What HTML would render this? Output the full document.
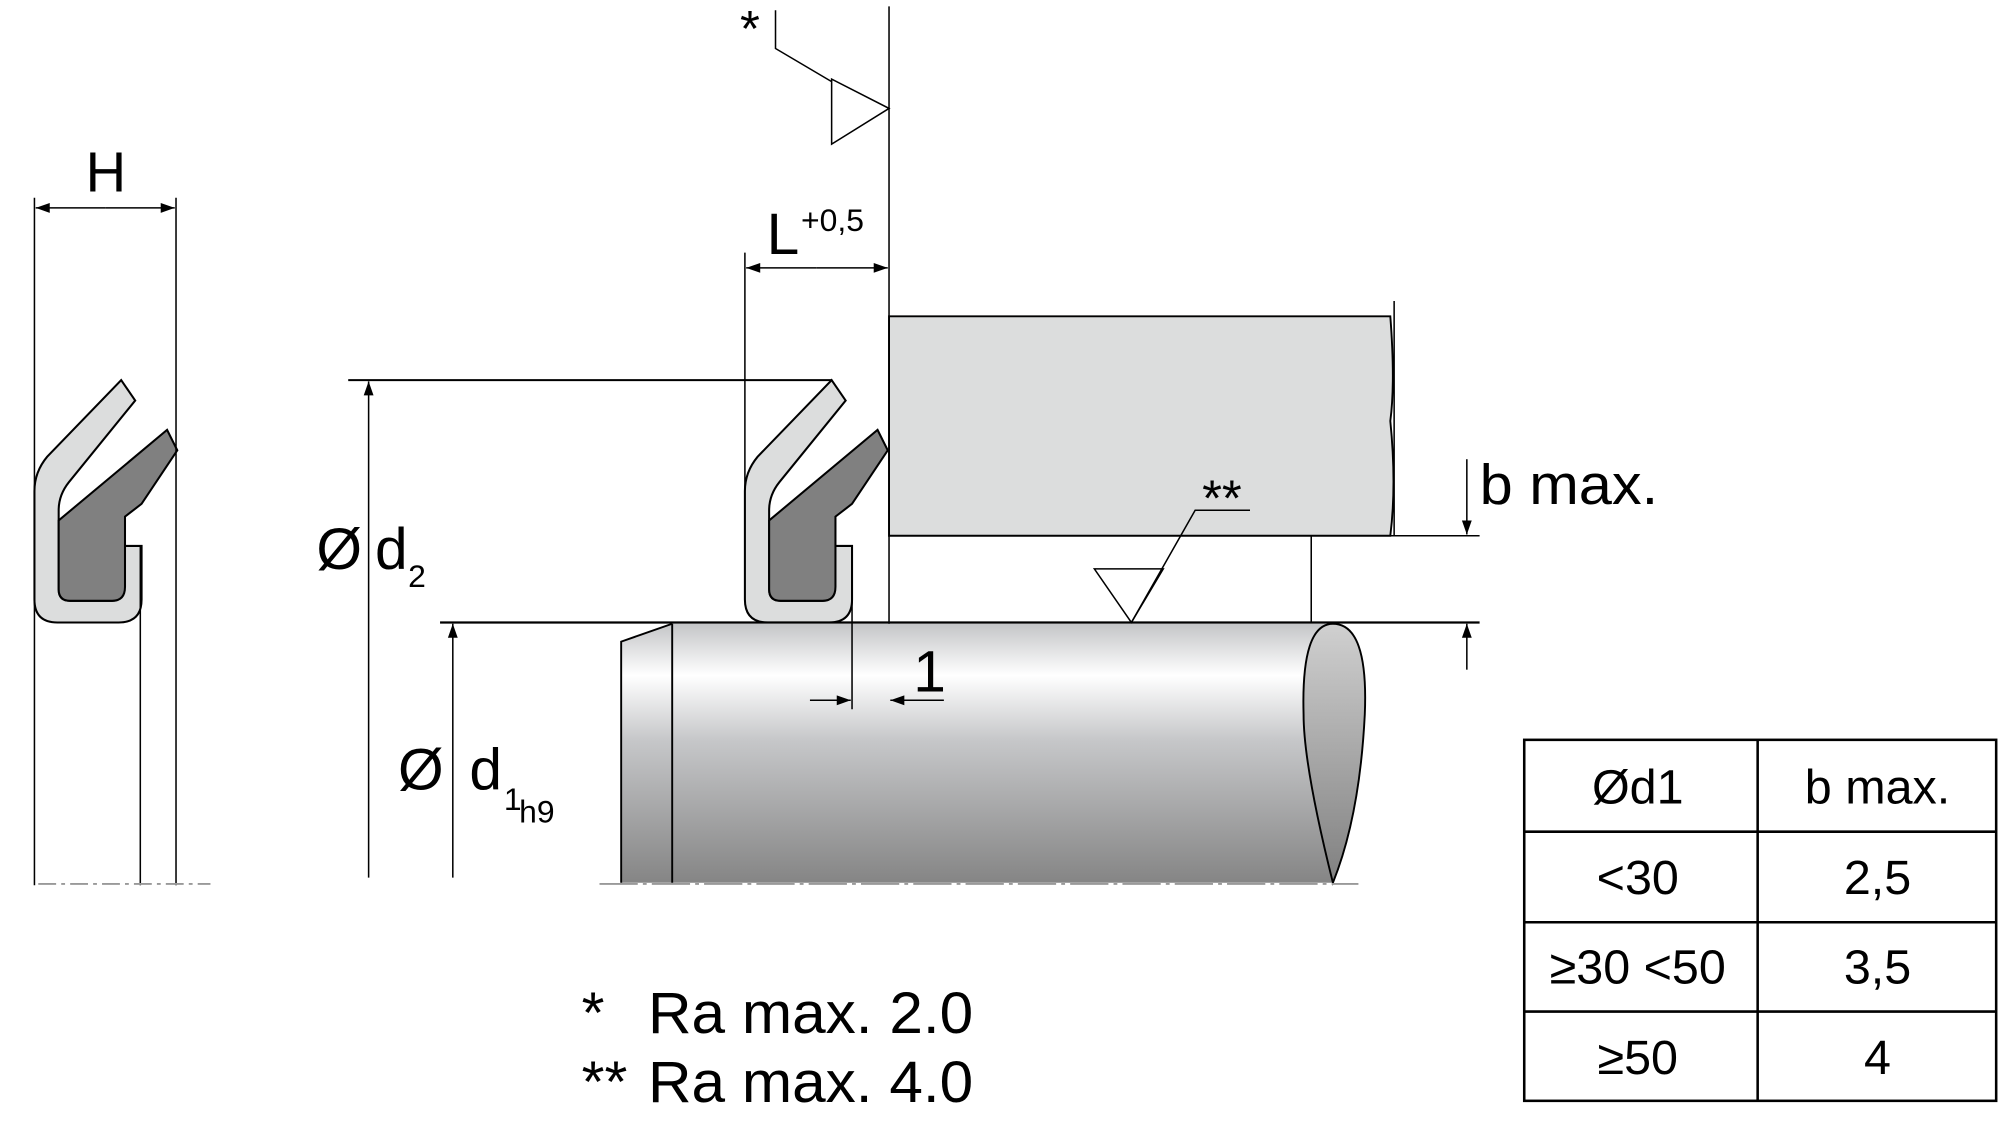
<!DOCTYPE html>
<html><head><meta charset="utf-8"><style>html,body{margin:0;padding:0;background:#fff}svg{display:block}text{font-family:"Liberation Sans",sans-serif;fill:#000}</style></head>
<body>
<svg width="2000" height="1128" viewBox="0 0 1568 884.3" preserveAspectRatio="none">
<defs>
<linearGradient id="sh" x1="0" y1="0" x2="0" y2="1">
<stop offset="0" stop-color="#c4c5c7"/><stop offset="0.2" stop-color="#ffffff"/><stop offset="0.45" stop-color="#c6c7c9"/><stop offset="1" stop-color="#858585"/></linearGradient>
<linearGradient id="en" x1="0" y1="0" x2="0" y2="1"><stop offset="0" stop-color="#d0d0d0"/><stop offset="1" stop-color="#808080"/></linearGradient>
<marker id="a" viewBox="0 0 10 10" refX="10" refY="5" markerWidth="18" markerHeight="11" markerUnits="userSpaceOnUse" orient="auto"><path d="M0,1.5 L10,5 L0,8.5Z" fill="#000"/></marker>
<g id="seal">
<path d="M652,298 L663,314 L611,378 Q603,388 603,400 L603,462 Q603,471 612,471 L645,471 Q653,471 653,462 L653,428 L668,428 L668,470 Q668,488 650,488 L602,488 Q584,488 584,470 L584,385 Q584,370 594,358 Z" fill="#dcdddd" stroke="#000" stroke-width="1.6"/>
<path d="M603,408 L688,337 L696,353 L668,395 L655,405 L655,460 Q655,471 645,471 L612,471 Q603,471 603,462 Z" fill="#808080" stroke="#000" stroke-width="1.6"/>
</g>
</defs>
<use href="#seal" transform="translate(-557,0)"/>
<line x1="27" y1="155" x2="27" y2="694" stroke="#000" stroke-width="1.2"/>
<line x1="138" y1="155" x2="138" y2="694" stroke="#000" stroke-width="1.2"/>
<line x1="110" y1="428" x2="110" y2="694" stroke="#000" stroke-width="1.2"/>
<line x1="83" y1="163" x2="137" y2="163" stroke="#000" stroke-width="1.2" marker-end="url(#a)"/>
<line x1="83" y1="163" x2="28" y2="163" stroke="#000" stroke-width="1.2" marker-end="url(#a)"/>
<text x="83" y="150" font-size="44" text-anchor="middle">H</text>
<line x1="30" y1="693" x2="165" y2="693" stroke="#999" stroke-width="1.5" stroke-dasharray="14,4,3,4"/>
<path d="M697,248 L1090,248 Q1094,300 1090,330 Q1095,380 1090,420 L697,420 Z" fill="#dcdddd" stroke="#000" stroke-width="1.5"/>
<line x1="1093" y1="236" x2="1093" y2="420" stroke="#000" stroke-width="1.2"/>
<line x1="697" y1="5" x2="697" y2="556" stroke="#000" stroke-width="1.2"/>
<text x="588" y="36" font-size="40" text-anchor="middle">*</text>
<polyline points="608,8 608,38 652,64" fill="none" stroke="#000" stroke-width="1.2"/>
<polygon points="652,62 652,113 697,85" fill="#fff" stroke="#000" stroke-width="1.2"/>
<line x1="584" y1="198" x2="584" y2="470" stroke="#000" stroke-width="1.2"/>
<line x1="640" y1="210" x2="585" y2="210" stroke="#000" stroke-width="1.2" marker-end="url(#a)"/>
<line x1="640" y1="210" x2="696" y2="210" stroke="#000" stroke-width="1.2" marker-end="url(#a)"/>
<text x="601" y="199" font-size="46">L</text>
<text x="628" y="181" font-size="25">+0,5</text>
<path d="M487,503 L527,489 L1045,489 L1045,692 L487,692 Z" fill="url(#sh)"/>
<path d="M487,692 L487,503 L527,489" fill="none" stroke="#000" stroke-width="1.5"/>
<line x1="527" y1="489" x2="527" y2="692" stroke="#000" stroke-width="1.5"/>
<path d="M1045,489 Q1073,489 1070,560 Q1066,640 1045,692 Q1022,600 1022,560 Q1020,489 1045,489 Z" fill="url(#en)" stroke="#000" stroke-width="1.5"/>
<line x1="470" y1="693" x2="1065" y2="693" stroke="#999" stroke-width="1.5" stroke-dasharray="30,4,3,4"/>
<use href="#seal"/>
<line x1="273" y1="298" x2="652" y2="298" stroke="#000" stroke-width="1.5"/>
<line x1="289" y1="688" x2="289" y2="299" stroke="#000" stroke-width="1.2" marker-end="url(#a)"/>
<text x="248" y="446" font-size="46">Ø</text>
<text x="294" y="446" font-size="46">d</text>
<text x="320" y="460" font-size="25">2</text>
<line x1="345" y1="488" x2="1160" y2="488" stroke="#000" stroke-width="1.8"/>
<line x1="355" y1="688" x2="355" y2="489" stroke="#000" stroke-width="1.2" marker-end="url(#a)"/>
<text x="312" y="619" font-size="46">Ø</text>
<text x="368" y="619" font-size="46">d</text>
<text x="395" y="635" font-size="25">1</text>
<text x="407" y="645" font-size="25">h9</text>
<line x1="668" y1="428" x2="668" y2="556" stroke="#000" stroke-width="1.2"/>
<line x1="635" y1="549" x2="667" y2="549" stroke="#000" stroke-width="1.2" marker-end="url(#a)"/>
<line x1="740" y1="549" x2="698" y2="549" stroke="#000" stroke-width="1.2" marker-end="url(#a)"/>
<text x="716" y="542" font-size="46">1</text>
<line x1="697" y1="420" x2="1160" y2="420" stroke="#000" stroke-width="1.2"/>
<line x1="1028" y1="420" x2="1028" y2="488" stroke="#000" stroke-width="1.2"/>
<line x1="1150" y1="360" x2="1150" y2="419" stroke="#000" stroke-width="1.2" marker-end="url(#a)"/>
<line x1="1150" y1="525" x2="1150" y2="489" stroke="#000" stroke-width="1.2" marker-end="url(#a)"/>
<text x="1160" y="395" font-size="44" textLength="140" lengthAdjust="spacingAndGlyphs">b max.</text>
<text x="958" y="404" font-size="40" text-anchor="middle">**</text>
<polyline points="980,400 937,400 887,488" fill="none" stroke="#000" stroke-width="1.2"/>
<polygon points="858,446 912,446 887,488" fill="none" stroke="#000" stroke-width="1.2"/>
<text x="456" y="810" font-size="46">*</text>
<text x="508" y="810" font-size="46" textLength="255" lengthAdjust="spacingAndGlyphs">Ra max. 2.0</text>
<text x="456" y="864" font-size="46">**</text>
<text x="508" y="864" font-size="46" textLength="255" lengthAdjust="spacingAndGlyphs">Ra max. 4.0</text>
<g stroke="#000" stroke-width="2" fill="none">
<rect x="1195" y="580" width="370" height="283"/>
<line x1="1378" y1="580" x2="1378" y2="863"/>
<line x1="1195" y1="652" x2="1565" y2="652"/>
<line x1="1195" y1="723" x2="1565" y2="723"/>
<line x1="1195" y1="793" x2="1565" y2="793"/>
</g>
<g font-size="38" text-anchor="middle">
<text x="1284" y="630">Ød1</text><text x="1472" y="630">b max.</text>
<text x="1284" y="701">&lt;30</text><text x="1472" y="701">2,5</text>
<text x="1284" y="771">≥30 &lt;50</text><text x="1472" y="771">3,5</text>
<text x="1284" y="842">≥50</text><text x="1472" y="842">4</text>
</g>
</svg>
</body></html>
